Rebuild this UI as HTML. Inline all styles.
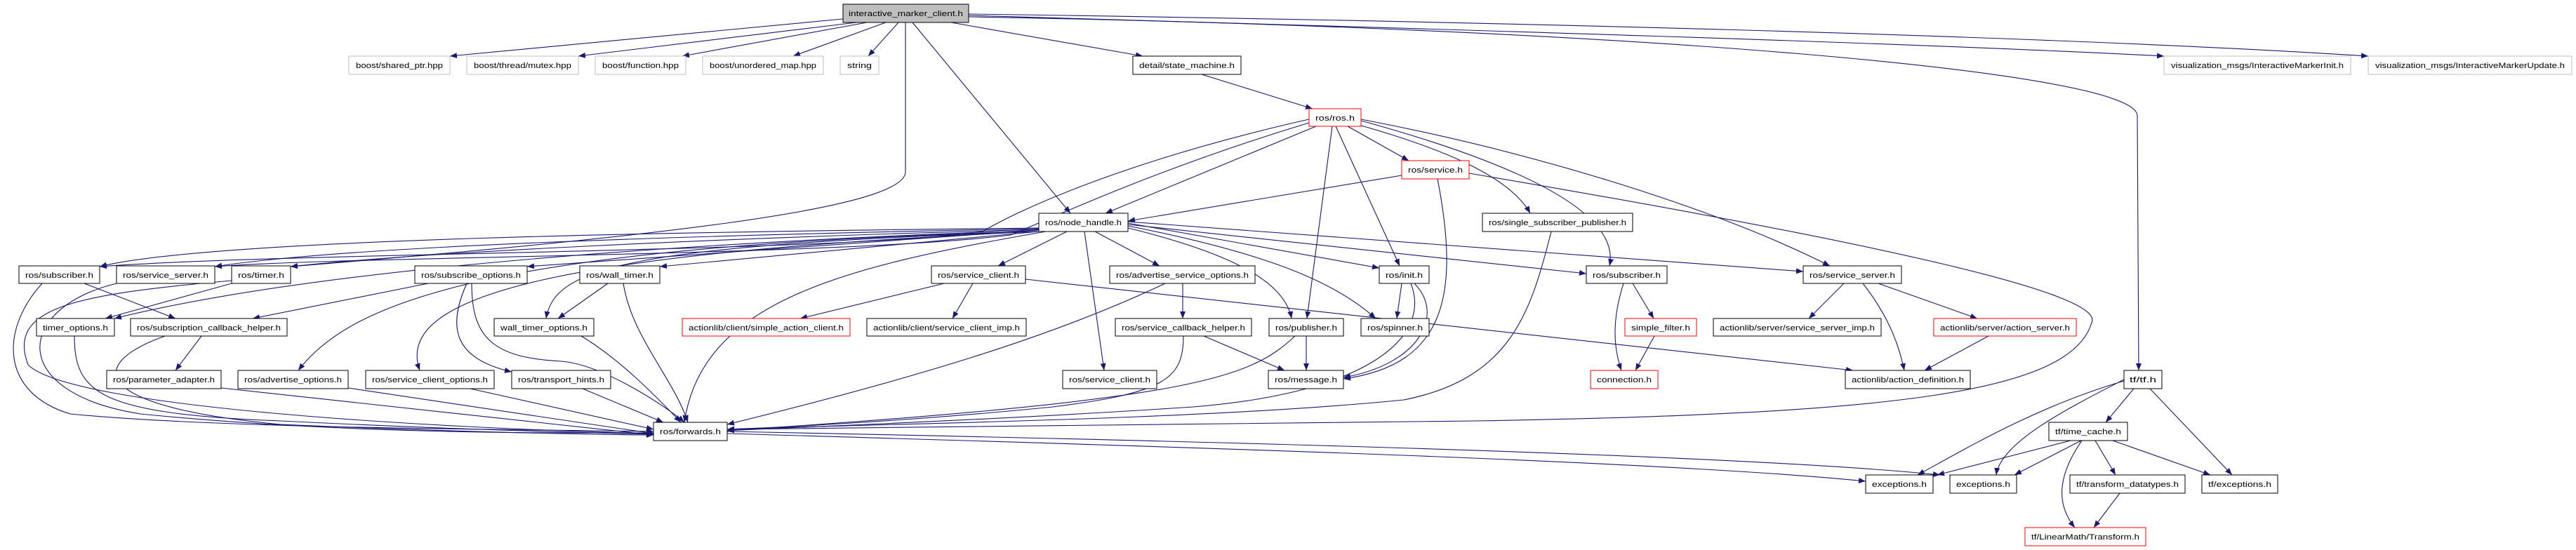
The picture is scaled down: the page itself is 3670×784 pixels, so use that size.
<!DOCTYPE html>
<html><head><meta charset="utf-8"><style>
html,body{margin:0;padding:0;background:#fff;}
svg{display:block;}
text{font-family:"Liberation Sans",sans-serif;font-size:11px;fill:#000;}
.e{fill:none;stroke:#191970;stroke-width:1.1;marker-end:url(#a);}
.b{fill:#fff;stroke:#000;stroke-width:1;}
.g{fill:#fff;stroke:#bfbfbf;stroke-width:1;}
.r{fill:#fff;stroke:#ff0000;stroke-width:1;}
</style></head><body>
<svg width="3670" height="784" viewBox="0 0 3670 784" xmlns="http://www.w3.org/2000/svg">
<defs><marker id="a" markerUnits="userSpaceOnUse" markerWidth="10" markerHeight="8" refX="10" refY="4" orient="auto"><path d="M0,0 L10,4 L0,8 z" fill="#191970"/></marker></defs>
<g>
<path class="e" d="M1201,27 L641,80"/>
<path class="e" d="M1220,32 L824,80"/>
<path class="e" d="M1235,32 L972,80"/>
<path class="e" d="M1262,32 L1130,80"/>
<path class="e" d="M1280,32 L1237,80"/>
<path class="e" d="M1355,32 L1628,80"/>
<path class="e" d="M1380,22 C2000,40 2700,60 3083,80"/>
<path class="e" d="M1380,20 C2100,30 2900,50 3374,80"/>
<path class="e" d="M1380,24 C2300,40 3045,100 3045,165 L3047,528"/>
<path class="e" d="M1300,32 L1525,304"/>
<path class="e" d="M1290,32 L1290,245 C1290,300 900,340 414,380"/>
<path class="e" d="M1712,106 L1870,155"/>
<path class="e" d="M1875,180 L1575,304"/>
<path class="e" d="M1920,180 L2007,229"/>
<path class="e" d="M1932,177 C2050,210 2150,250 2180,304"/>
<path class="e" d="M1939,172 C2150,230 2310,300 2293,379"/>
<path class="e" d="M1939,170 C2200,220 2450,300 2607,379"/>
<path class="e" d="M1903,180 L1994,379"/>
<path class="e" d="M1898,180 L1862,454"/>
<path class="e" d="M1865,170 C1600,230 1450,300 1400,330 C1200,360 400,360 142,380"/>
<path class="e" d="M1865,175 C1650,240 1500,310 1440,335 C1200,365 500,365 306,380"/>
<path class="e" d="M1997,250 L1607,315"/>
<path class="e" d="M2048,255 C2080,420 2060,520 1914,540"/>
<path class="e" d="M2093,247 C2700,350 3000,420 2980,460 C2950,560 2700,590 2100,600 C1600,606 1200,610 1036,612"/>
<path class="e" d="M2210,330 C2180,450 2150,540 2000,570 C1700,600 1200,605 1036,612"/>
<path class="e" d="M1480,325 C1000,330 300,340 142,380"/>
<path class="e" d="M1480,326 C1000,335 500,350 306,380"/>
<path class="e" d="M1480,327 C1000,340 600,360 414,380"/>
<path class="e" d="M1480,328 C1000,345 460,380 163,454"/>
<path class="e" d="M1480,328 L751,380"/>
<path class="e" d="M1480,330 L940,380"/>
<path class="e" d="M1480,330 C900,350 790,380 778,454"/>
<path class="e" d="M1480,330 C700,350 500,430 425,528"/>
<path class="e" d="M1480,330 C800,360 560,420 598,528"/>
<path class="e" d="M1520,330 L1422,379"/>
<path class="e" d="M1560,330 L1652,379"/>
<path class="e" d="M1545,330 L1573,528"/>
<path class="e" d="M1607,325 C1750,360 1830,400 1840,454"/>
<path class="e" d="M1607,322 C1800,360 1900,400 1960,454"/>
<path class="e" d="M1607,318 L1965,382"/>
<path class="e" d="M1607,320 L2260,390"/>
<path class="e" d="M1607,316 L2569,387"/>
<path class="e" d="M1490,330 C1200,380 1000,430 975,602"/>
<path class="e" d="M120,404 L250,454"/>
<path class="e" d="M60,404 C0,470 0,560 100,590 C300,610 700,612 931,615"/>
<path class="e" d="M166,404 C20,440 10,560 200,590 C500,620 800,617 931,617"/>
<path class="e" d="M330,404 L150,454"/>
<path class="e" d="M330,400 C100,420 10,440 40,520 C100,580 600,610 931,618"/>
<path class="e" d="M610,404 L360,454"/>
<path class="e" d="M665,404 C640,460 640,510 729,530"/>
<path class="e" d="M672,404 C672,480 700,510 800,515 C860,520 950,580 975,602"/>
<path class="e" d="M866,404 L795,454"/>
<path class="e" d="M888,404 C900,480 960,540 980,602"/>
<path class="e" d="M106,479 C106,560 140,590 400,600 C700,615 900,618 931,619"/>
<path class="e" d="M287,479 L250,528"/>
<path class="e" d="M235,479 C120,520 130,580 400,605 C700,618 900,620 931,620"/>
<path class="e" d="M315,553 L931,620"/>
<path class="e" d="M496,553 L931,618"/>
<path class="e" d="M670,554 L931,612"/>
<path class="e" d="M830,554 L945,602"/>
<path class="e" d="M828,479 C880,510 930,560 970,602"/>
<path class="e" d="M1345,404 L1140,454"/>
<path class="e" d="M1386,404 L1357,454"/>
<path class="e" d="M1461,398 L2640,528"/>
<path class="e" d="M1685,404 L1685,454"/>
<path class="e" d="M1660,404 C1500,480 1300,540 1036,605"/>
<path class="e" d="M1715,479 L1830,528"/>
<path class="e" d="M1686,479 C1686,540 1660,560 1500,580 C1300,600 1100,610 1036,612"/>
<path class="e" d="M1861,479 L1861,528"/>
<path class="e" d="M1845,479 C1780,540 1700,570 1036,614"/>
<path class="e" d="M1997,404 L1990,454"/>
<path class="e" d="M2015,404 C2060,450 2020,520 1914,538"/>
<path class="e" d="M2010,404 C2040,480 1950,560 1700,580 C1400,600 1100,610 1036,614"/>
<path class="e" d="M2326,404 L2356,454"/>
<path class="e" d="M2313,404 C2295,460 2300,500 2310,528"/>
<path class="e" d="M2357,479 L2330,528"/>
<path class="e" d="M2627,404 L2577,454"/>
<path class="e" d="M2654,404 C2690,450 2705,490 2713,528"/>
<path class="e" d="M2676,404 L2817,454"/>
<path class="e" d="M2833,479 L2742,528"/>
<path class="e" d="M1036,618 C1800,640 2400,660 2658,686"/>
<path class="e" d="M1036,615 C1800,630 2500,650 2764,677"/>
<path class="e" d="M3026,543 C2900,580 2800,640 2732,677"/>
<path class="e" d="M3026,541 C2950,580 2850,630 2844,677"/>
<path class="e" d="M3040,554 L3000,602"/>
<path class="e" d="M3063,554 L3180,677"/>
<path class="e" d="M2950,628 L2760,677"/>
<path class="e" d="M2965,628 L2870,677"/>
<path class="e" d="M2985,628 L3014,677"/>
<path class="e" d="M3010,628 L3149,677"/>
<path class="e" d="M2966,628 C2930,680 2930,720 2956,752"/>
<path class="e" d="M3020,703 L2983,752"/>
</g>
<g lengthAdjust="spacingAndGlyphs">
<rect x="1201" y="6" width="179" height="26" fill="#bfbfbf" stroke="#000"/><text x="1290.5" y="23" text-anchor="middle" textLength="163" lengthAdjust="spacingAndGlyphs">interactive_marker_client.h</text>
<rect class="g" x="497" y="80" width="144" height="26"/><text x="569" y="97" text-anchor="middle" textLength="124" lengthAdjust="spacingAndGlyphs">boost/shared_ptr.hpp</text>
<rect class="g" x="665" y="80" width="159" height="26"/><text x="744.5" y="97" text-anchor="middle" textLength="139" lengthAdjust="spacingAndGlyphs">boost/thread/mutex.hpp</text>
<rect class="g" x="848" y="80" width="129" height="26"/><text x="912.5" y="97" text-anchor="middle" textLength="109" lengthAdjust="spacingAndGlyphs">boost/function.hpp</text>
<rect class="g" x="1001" y="80" width="172" height="26"/><text x="1087" y="97" text-anchor="middle" textLength="152" lengthAdjust="spacingAndGlyphs">boost/unordered_map.hpp</text>
<rect class="g" x="1197" y="80" width="55" height="26"/><text x="1224.5" y="97" text-anchor="middle" textLength="35" lengthAdjust="spacingAndGlyphs">string</text>
<rect class="g" x="3083" y="80" width="266" height="26"/><text x="3216" y="97" text-anchor="middle" textLength="246" lengthAdjust="spacingAndGlyphs">visualization_msgs/InteractiveMarkerInit.h</text>
<rect class="g" x="3374" y="80" width="290" height="26"/><text x="3519" y="97" text-anchor="middle" textLength="270" lengthAdjust="spacingAndGlyphs">visualization_msgs/InteractiveMarkerUpdate.h</text>
<rect class="b" x="1614" y="80" width="154" height="26"/><text x="1691" y="97" text-anchor="middle" textLength="136" lengthAdjust="spacingAndGlyphs">detail/state_machine.h</text>
<rect class="r" x="1865" y="155" width="74" height="25"/><text x="1902" y="172" text-anchor="middle" textLength="56" lengthAdjust="spacingAndGlyphs">ros/ros.h</text>
<rect class="r" x="1997" y="229" width="96" height="26"/><text x="2045" y="246" text-anchor="middle" textLength="78" lengthAdjust="spacingAndGlyphs">ros/service.h</text>
<rect class="b" x="1480" y="304" width="127" height="26"/><text x="1543.5" y="321" text-anchor="middle" textLength="109" lengthAdjust="spacingAndGlyphs">ros/node_handle.h</text>
<rect class="b" x="2112" y="304" width="214" height="26"/><text x="2219" y="321" text-anchor="middle" textLength="196" lengthAdjust="spacingAndGlyphs">ros/single_subscriber_publisher.h</text>

<rect class="b" x="27" y="379" width="115" height="25"/><text x="84.5" y="396" text-anchor="middle" textLength="97" lengthAdjust="spacingAndGlyphs">ros/subscriber.h</text>
<rect class="b" x="166" y="379" width="140" height="25"/><text x="236" y="396" text-anchor="middle" textLength="122" lengthAdjust="spacingAndGlyphs">ros/service_server.h</text>
<rect class="b" x="330" y="379" width="84" height="25"/><text x="372" y="396" text-anchor="middle" textLength="66" lengthAdjust="spacingAndGlyphs">ros/timer.h</text>
<rect class="b" x="591" y="379" width="160" height="25"/><text x="671" y="396" text-anchor="middle" textLength="142" lengthAdjust="spacingAndGlyphs">ros/subscribe_options.h</text>
<rect class="b" x="826" y="379" width="114" height="25"/><text x="883" y="396" text-anchor="middle" textLength="96" lengthAdjust="spacingAndGlyphs">ros/wall_timer.h</text>
<rect class="b" x="1327" y="379" width="134" height="25"/><text x="1394" y="396" text-anchor="middle" textLength="116" lengthAdjust="spacingAndGlyphs">ros/service_client.h</text>
<rect class="b" x="1581" y="379" width="207" height="25"/><text x="1684.5" y="396" text-anchor="middle" textLength="189" lengthAdjust="spacingAndGlyphs">ros/advertise_service_options.h</text>
<rect class="b" x="1965" y="379" width="71" height="25"/><text x="2000.5" y="396" text-anchor="middle" textLength="53" lengthAdjust="spacingAndGlyphs">ros/init.h</text>
<rect class="b" x="2260" y="379" width="115" height="25"/><text x="2317.5" y="396" text-anchor="middle" textLength="97" lengthAdjust="spacingAndGlyphs">ros/subscriber.h</text>
<rect class="b" x="2569" y="379" width="140" height="25"/><text x="2639" y="396" text-anchor="middle" textLength="122" lengthAdjust="spacingAndGlyphs">ros/service_server.h</text>

<rect class="b" x="52" y="454" width="111" height="25"/><text x="107.5" y="471" text-anchor="middle" textLength="93" lengthAdjust="spacingAndGlyphs">timer_options.h</text>
<rect class="b" x="186" y="454" width="223" height="25"/><text x="297.5" y="471" text-anchor="middle" textLength="205" lengthAdjust="spacingAndGlyphs">ros/subscription_callback_helper.h</text>
<rect class="b" x="704" y="454" width="142" height="25"/><text x="775" y="471" text-anchor="middle" textLength="124" lengthAdjust="spacingAndGlyphs">wall_timer_options.h</text>
<rect class="r" x="972" y="454" width="239" height="25"/><text x="1091.5" y="471" text-anchor="middle" textLength="221" lengthAdjust="spacingAndGlyphs">actionlib/client/simple_action_client.h</text>
<rect class="b" x="1235" y="454" width="227" height="25"/><text x="1348.5" y="471" text-anchor="middle" textLength="209" lengthAdjust="spacingAndGlyphs">actionlib/client/service_client_imp.h</text>
<rect class="b" x="1589" y="454" width="194" height="25"/><text x="1686" y="471" text-anchor="middle" textLength="176" lengthAdjust="spacingAndGlyphs">ros/service_callback_helper.h</text>
<rect class="b" x="1808" y="454" width="106" height="25"/><text x="1861" y="471" text-anchor="middle" textLength="88" lengthAdjust="spacingAndGlyphs">ros/publisher.h</text>
<rect class="b" x="1939" y="454" width="97" height="25"/><text x="1987.5" y="471" text-anchor="middle" textLength="79" lengthAdjust="spacingAndGlyphs">ros/spinner.h</text>
<rect class="r" x="2315" y="454" width="102" height="25"/><text x="2366" y="471" text-anchor="middle" textLength="84" lengthAdjust="spacingAndGlyphs">simple_filter.h</text>
<rect class="b" x="2441" y="454" width="239" height="25"/><text x="2560.5" y="471" text-anchor="middle" textLength="221" lengthAdjust="spacingAndGlyphs">actionlib/server/service_server_imp.h</text>
<rect class="r" x="2755" y="454" width="203" height="25"/><text x="2856.5" y="471" text-anchor="middle" textLength="185" lengthAdjust="spacingAndGlyphs">actionlib/server/action_server.h</text>

<rect class="b" x="152" y="528" width="163" height="26"/><text x="233.5" y="545" text-anchor="middle" textLength="145" lengthAdjust="spacingAndGlyphs">ros/parameter_adapter.h</text>
<rect class="b" x="339" y="528" width="157" height="26"/><text x="417.5" y="545" text-anchor="middle" textLength="139" lengthAdjust="spacingAndGlyphs">ros/advertise_options.h</text>
<rect class="b" x="521" y="528" width="183" height="26"/><text x="612.5" y="545" text-anchor="middle" textLength="165" lengthAdjust="spacingAndGlyphs">ros/service_client_options.h</text>
<rect class="b" x="729" y="528" width="141" height="26"/><text x="799.5" y="545" text-anchor="middle" textLength="123" lengthAdjust="spacingAndGlyphs">ros/transport_hints.h</text>
<rect class="b" x="1514" y="528" width="134" height="26"/><text x="1581" y="545" text-anchor="middle" textLength="116" lengthAdjust="spacingAndGlyphs">ros/service_client.h</text>
<rect class="b" x="1807" y="528" width="107" height="26"/><text x="1860.5" y="545" text-anchor="middle" textLength="89" lengthAdjust="spacingAndGlyphs">ros/message.h</text>
<rect class="r" x="2266" y="528" width="96" height="26"/><text x="2314" y="545" text-anchor="middle" textLength="78" lengthAdjust="spacingAndGlyphs">connection.h</text>
<rect class="b" x="2629" y="528" width="178" height="26"/><text x="2718" y="545" text-anchor="middle" textLength="160" lengthAdjust="spacingAndGlyphs">actionlib/action_definition.h</text>
<rect class="b" x="3026" y="528" width="54" height="26"/><text x="3053" y="545" text-anchor="middle" textLength="38" lengthAdjust="spacingAndGlyphs">tf/tf.h</text>

<rect class="b" x="931" y="602" width="105" height="26"/><text x="983.5" y="619" text-anchor="middle" textLength="87" lengthAdjust="spacingAndGlyphs">ros/forwards.h</text>
<rect class="b" x="2919" y="602" width="112" height="26"/><text x="2975" y="619" text-anchor="middle" textLength="94" lengthAdjust="spacingAndGlyphs">tf/time_cache.h</text>

<rect class="b" x="2658" y="677" width="96" height="26"/><text x="2706" y="694" text-anchor="middle" textLength="78" lengthAdjust="spacingAndGlyphs">exceptions.h</text>
<rect class="b" x="2778" y="677" width="95" height="26"/><text x="2825.5" y="694" text-anchor="middle" textLength="77" lengthAdjust="spacingAndGlyphs">exceptions.h</text>
<rect class="b" x="2949" y="677" width="164" height="26"/><text x="3031" y="694" text-anchor="middle" textLength="146" lengthAdjust="spacingAndGlyphs">tf/transform_datatypes.h</text>
<rect class="b" x="3137" y="677" width="108" height="26"/><text x="3191" y="694" text-anchor="middle" textLength="90" lengthAdjust="spacingAndGlyphs">tf/exceptions.h</text>

<rect class="r" x="2885" y="752" width="172" height="26"/><text x="2971" y="769" text-anchor="middle" textLength="154" lengthAdjust="spacingAndGlyphs">tf/LinearMath/Transform.h</text>
</g>
</svg>
</body></html>
